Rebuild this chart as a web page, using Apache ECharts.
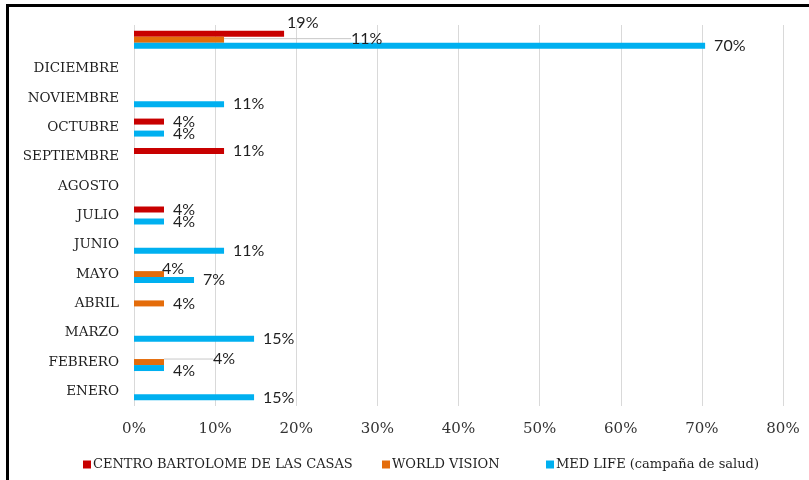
<!DOCTYPE html>
<html>
<head>
<meta charset="utf-8">
<script src="https://cdn.jsdelivr.net/npm/echarts@6/dist/echarts.min.js"></script>
<style>
  html, body { margin: 0; padding: 0; background: #fff; }
  #chart { width: 809px; height: 480px; }
</style>
</head>
<body>
<div id="chart"></div>
<script>
// categories, bottom to top (the top one has no label)
const months = ['ENERO', 'FEBRERO', 'MARZO', 'ABRIL', 'MAYO', 'JUNIO', 'JULIO',
  'AGOSTO', 'SEPTIEMBRE', 'OCTUBRE', 'NOVIEMBRE', 'DICIEMBRE', '']

const seriesNames = ['CENTRO BARTOLOME DE LAS CASAS', 'WORLD VISION', 'MED LIFE (campaña de salud)']

// percentages
const centroBartolome = ['-', '-', '-', '-', '-', '-', 3.7, '-', 11.1, 3.7, '-', '-', 18.5]
const worldVision = ['-', 3.7, '-', 3.7, 3.7, '-', '-', '-', '-', '-', '-', '-', 11.1]
const medLife = [14.8, 3.7, 14.8, '-', 7.4, 11.1, 3.7, '-', '-', 3.7, 11.1, '-', 70.4]

const xTicks = [0, 10, 20, 30, 40, 50, 60, 70, 80]

const colors = ['#c80000', '#e46c0a', '#00b0f0']

// labels that were moved by hand in the original: [series, dataIndex] -> shift
const labelNudges = {
  '0-12': { dx: -6, dy: -11 },
  '1-12': { dx: 118, dy: -1, line: true },
  '1-1': { dx: 40, dy: -3, line: true },
  '1-4': { dx: -11, dy: -5 },
  '2-1': { dx: 0, dy: 3 }
}

const chart = echarts.init(document.getElementById('chart'))

function makeSeries(values, idx) {
  return {
    name: seriesNames[idx],
    type: 'bar',
    data: values.map((v, i) => {
      const n = labelNudges[idx + '-' + i]
      if (n && n.line) {
        return { value: v, labelLine: { show: true, lineStyle: { color: '#c8c8c8', width: 1 } } }
      }
      return v
    }),
    barWidth: 6,
    barGap: '0%',
    itemStyle: { color: colors[idx] },
    label: {
      show: true,
      position: 'right',
      distance: 9,
      fontFamily: 'Lato',
      fontSize: 16,
      color: '#1f1f1f',
      formatter: p => Math.round(p.value) + '%'
    },
    labelLayout: function (p) {
      const n = labelNudges[idx + '-' + p.dataIndex]
      return n ? { dx: n.dx, dy: n.dy } : {}
    }
  }
}

const legendPos = [78, 377, 541]

chart.setOption({
  animation: false,
  color: colors,
  grid: { left: 134, right: 26, top: 25, bottom: 74 },
  xAxis: {
    type: 'value',
    min: 0,
    max: 80,
    interval: 10,
    axisLine: { show: false },
    axisTick: { show: false },
    splitLine: { lineStyle: { color: '#d9d9d9' } },
    axisLabel: {
      margin: 16,
      fontFamily: 'DejaVu Serif',
      fontSize: 15,
      color: '#333333',
      formatter: v => xTicks.includes(v) ? v + '%' : ''
    }
  },
  yAxis: {
    type: 'category',
    data: months,
    axisLine: { show: false },
    axisTick: { show: false },
    axisLabel: {
      margin: 15,
      fontFamily: 'DejaVu Serif',
      fontSize: 13.5,
      color: '#1f1f1f'
    }
  },
  legend: seriesNames.map((name, i) => ({
    data: [name],
    left: legendPos[i],
    top: 453,
    itemWidth: 8,
    itemHeight: 8,
    itemGap: 0,
    icon: 'rect',
    textStyle: { fontFamily: 'DejaVu Serif', fontSize: 13, color: '#1f1f1f', padding: [0, 0, 0, -3] }
  })),
  graphic: [
    { type: 'rect', shape: { x: 6, y: 4, width: 803, height: 3 }, style: { fill: '#000' } },
    { type: 'rect', shape: { x: 6, y: 4, width: 3, height: 476 }, style: { fill: '#000' } }
  ],
  series: [makeSeries(centroBartolome, 0), makeSeries(worldVision, 1), makeSeries(medLife, 2)]
})
</script>
</body>
</html>
